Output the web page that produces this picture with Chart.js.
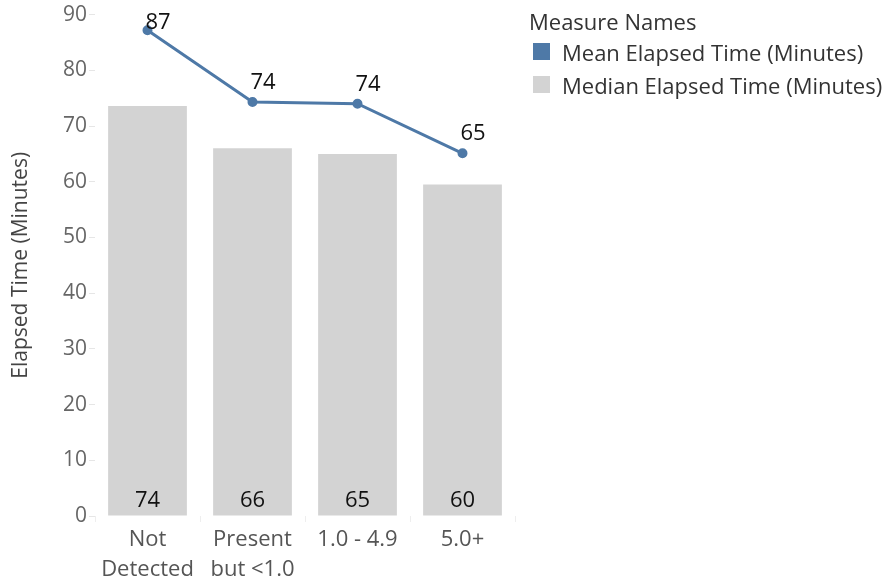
<!DOCTYPE html>
<html>
<head>
<meta charset="utf-8">
<script src="https://cdn.jsdelivr.net/npm/chart.js@4"></script>
<style>
  body { margin: 0; background: #fff; font-family: "Open Sans", sans-serif; }
  #wrap { position: relative; width: 893px; height: 580px; }
  #legend { position: absolute; left: 529px; top: 6px; color: #333; font-size: 22px; }
  #legend .item { display: flex; align-items: center; height: 33px; }
  #legend .box { width: 17px; height: 17px; margin: 0 12px 0 4px; }
</style>
</head>
<body>
<div id="wrap">
  <canvas id="myChart" width="893" height="580"></canvas>
  <div id="legend">
    <div style="height:29px;">Measure Names</div>
    <div class="item"><span class="box" style="background:#4e79a7"></span>Mean Elapsed Time (Minutes)</div>
    <div class="item"><span class="box" style="background:#d3d3d3"></span>Median Elapsed Time (Minutes)</div>
  </div>
</div>
<script>
// 데이터
const categories = [['Not', 'Detected'], ['Present', 'but <1.0'], '1.0 - 4.9', '5.0+'];
const meanValues = [87.2, 74.3, 74.0, 65.1];
const medianValues = [73.6, 66, 65, 59.5];
const yTicks = [0, 10, 20, 30, 40, 50, 60, 70, 80, 90];

const FONT = '"Open Sans", sans-serif';

// 값 라벨 그리기
const valueLabels = {
  id: 'valueLabels',
  afterDatasetsDraw(chart) {
    const c = chart.ctx;
    c.save();
    c.font = '22px ' + FONT;
    c.fillStyle = '#111';
    // median: 막대 아래쪽
    chart.getDatasetMeta(0).data.forEach((bar, i) => {
      c.textAlign = 'center';
      c.textBaseline = 'alphabetic';
      c.fillText(Math.round(medianValues[i]), bar.x, 507);
    });
    // mean: 점 오른쪽 위
    chart.getDatasetMeta(1).data.forEach((pt, i) => {
      c.textAlign = 'left';
      c.textBaseline = 'alphabetic';
      const y = Math.max(pt.y - 13, 29);
      c.fillText(Math.round(meanValues[i]), pt.x - 2, y);
    });
    c.restore();
  }
};

const ctx = document.getElementById('myChart');
new Chart(ctx, {
  data: {
    labels: categories,
    datasets: [{
      type: 'bar',
      label: 'Median Elapsed Time (Minutes)',
      data: medianValues,
      backgroundColor: '#d3d3d3',
      barPercentage: 0.75,
      categoryPercentage: 1,
      order: 2
    }, {
      type: 'line',
      label: 'Mean Elapsed Time (Minutes)',
      data: meanValues,
      borderColor: '#4e79a7',
      backgroundColor: '#4e79a7',
      borderWidth: 3,
      pointRadius: 3.5,
      pointHoverRadius: 4,
      order: 1
    }]
  },
  options: {
    responsive: false,
    animation: false,
    layout: { padding: { top: 12, right: 378, left: 0, bottom: 0 } },
    plugins: { legend: { display: false }, tooltip: { enabled: false } },
    scales: {
      y: {
        min: 0,
        max: 90,
        afterBuildTicks(axis) { axis.ticks = yTicks.map(v => ({ value: v })); },
        afterFit(axis) { axis.width = 95; },
        border: { display: false },
        grid: { drawOnChartArea: false, tickLength: 6, color: '#e6e6e6' },
        ticks: { color: '#666', padding: 2, font: { family: FONT, size: 21 } },
        title: { display: true, text: 'Elapsed Time (Minutes)', color: '#444', padding: { top: 8, bottom: 0 }, font: { family: FONT, size: 21 } }
      },
      x: {
        afterFit(axis) { axis.height = 64; },
        border: { display: false },
        grid: { offset: true, drawOnChartArea: false, tickLength: 6, color: '#eeeeee' },
        ticks: { color: '#555', padding: 3, font: { family: FONT, size: 22, lineHeight: 1.36 }, maxRotation: 0 }
      }
    }
  },
  plugins: [valueLabels]
});
</script>
</body>
</html>
